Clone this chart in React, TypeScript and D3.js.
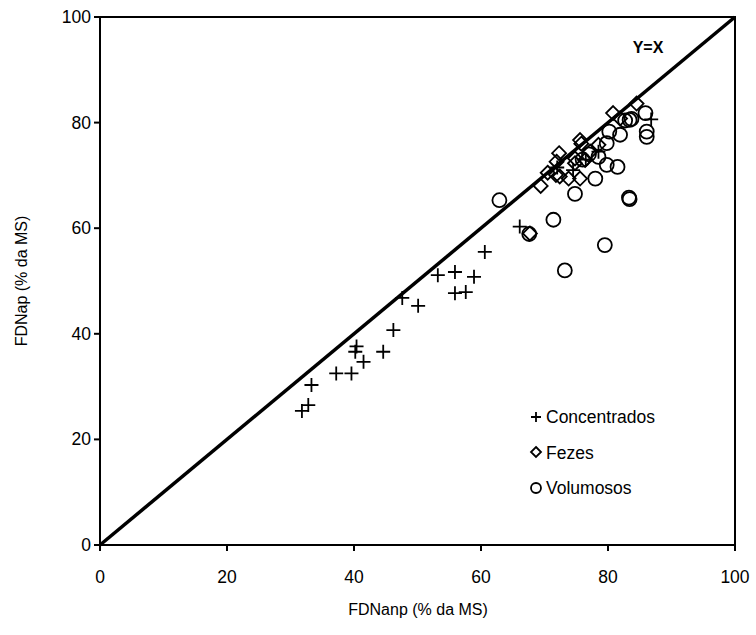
import React from "react";
import * as d3 from "d3";

const concX = [31.8, 32.8, 33.3, 37.2, 39.6, 40.4, 40.2, 41.5, 44.6, 46.2, 47.6, 50.1, 53.2, 55.9, 55.9, 57.6, 58.9, 60.6, 66.1, 72.0, 74.5, 76.5, 78.5, 86.8];
const concY = [25.4, 26.5, 30.3, 32.5, 32.5, 37.6, 36.6, 34.7, 36.6, 40.7, 46.8, 45.3, 51.1, 51.7, 47.7, 47.9, 50.8, 55.5, 60.3, 71.5, 71.0, 73.0, 74.5, 80.6];

const fezX = [72.3, 71.9, 69.4, 71.8, 72.4, 73.8, 74.8, 75.6, 75.8, 76.4, 77.2, 78.5, 80.8, 81.9, 84.5, 67.7, 75.6, 74.8, 70.5];
const fezY = [74.2, 72.6, 68.0, 70.1, 69.8, 69.4, 72.3, 69.4, 76.0, 72.9, 74.5, 75.8, 81.8, 80.8, 83.6, 59.0, 76.7, 73.2, 70.5];

const volX = [62.9, 71.4, 67.6, 79.5, 73.2, 83.4, 83.3, 74.8, 78.0, 79.8, 81.5, 78.5, 79.8, 81.9, 80.2, 83.4, 85.9, 86.1, 86.1, 82.7, 83.7, 77.0, 76.0];
const volY = [65.3, 61.6, 58.9, 56.8, 52.0, 65.5, 65.8, 66.5, 69.4, 72.0, 71.6, 73.5, 76.1, 77.7, 78.3, 80.5, 81.8, 77.3, 78.3, 80.4, 80.7, 74.0, 73.0];

const ticks = [0, 20, 40, 60, 80, 100];
const legendLabels = ["Concentrados", "Fezes", "Volumosos"];

export default function App() {
  const W = 756, H = 635;
  const x = d3.scaleLinear().domain([0, 100]).range([100, 735]);
  const y = d3.scaleLinear().domain([0, 100]).range([545, 17]);
  const font = "Arial, 'Liberation Sans', sans-serif";
  const plus = (cx: number, cy: number, k: string, s = 7) => (
    <path key={k} d={`M${cx - s},${cy}H${cx + s}M${cx},${cy - s}V${cy + s}`} stroke="#000" strokeWidth={1.8} fill="none" />
  );
  const diamond = (cx: number, cy: number, k: string, s = 7) => (
    <path key={k} d={`M${cx},${cy - s}L${cx + s},${cy}L${cx},${cy + s}L${cx - s},${cy}Z`} stroke="#000" strokeWidth={1.8} fill="none" />
  );
  const circle = (cx: number, cy: number, k: string, rr = 7) => (
    <circle key={k} cx={cx} cy={cy} r={rr} stroke="#000" strokeWidth={1.8} fill="none" />
  );
  return (
    <svg width={W} height={H} style={{ position: "absolute", left: 0, top: 0 }} fontFamily={font}>
      <rect width={W} height={H} fill="#fff" />
      <rect x={x(0)} y={y(100)} width={x(100) - x(0)} height={y(0) - y(100)} fill="none" stroke="#000" strokeWidth={2} />
      {ticks.map((t) => (
        <g key={"xt" + t}>
          <line x1={x(t)} x2={x(t)} y1={y(0)} y2={y(0) + 6} stroke="#000" strokeWidth={2} />
          <text x={x(t)} y={y(0) + 38} fontSize={17.5} textAnchor="middle">{t}</text>
        </g>
      ))}
      {ticks.map((t) => (
        <g key={"yt" + t}>
          <line x1={x(0) - 6} x2={x(0)} y1={y(t)} y2={y(t)} stroke="#000" strokeWidth={2} />
          <text x={x(0) - 9} y={y(t) + 6} fontSize={17.5} textAnchor="end">{t}</text>
        </g>
      ))}
      <line x1={x(0)} y1={y(0)} x2={x(100)} y2={y(100)} stroke="#000" strokeWidth={3.5} />
      <text x={648} y={53} fontSize={16} fontWeight="bold" textAnchor="middle">Y=X</text>
      {volX.map((v, i) => circle(x(v), y(volY[i]), "v" + i))}
      {fezX.map((v, i) => diamond(x(v), y(fezY[i]), "f" + i))}
      {concX.map((v, i) => plus(x(v), y(concY[i]), "c" + i))}
      {plus(536, 417, "lc", 5)}
      {diamond(536, 452, "lf", 5)}
      {circle(536, 488, "lv", 5)}
      {legendLabels.map((l, i) => (
        <text key={l} x={546} y={423 + i * 35.5} fontSize={17.5}>{l}</text>
      ))}
      <text x={418} y={615} fontSize={16} textAnchor="middle">FDNanp (% da MS)</text>
      <text transform={`translate(27,${281}) rotate(-90)`} fontSize={16} textAnchor="middle">FDNap (% da MS)</text>
    </svg>
  );
}
